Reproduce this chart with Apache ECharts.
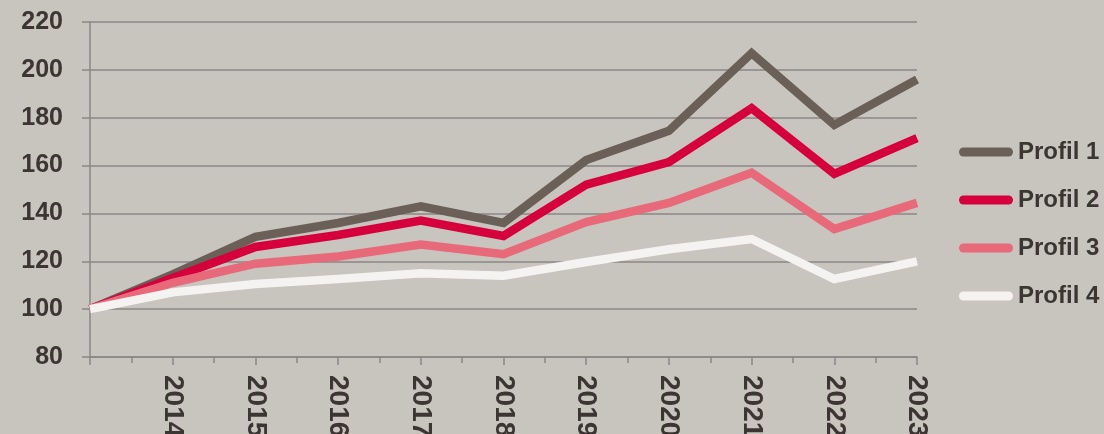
<!DOCTYPE html>
<html><head><meta charset="utf-8">
<script src="https://cdn.jsdelivr.net/npm/echarts@6/dist/echarts.min.js"></script>
<style>html,body{margin:0;padding:0;background:#c8c4be;}#c{width:1104px;height:434px;}</style>
</head><body><div id="c"></div>
<script>
const years = [2013, 2014, 2015, 2016, 2017, 2018, 2019, 2020, 2021, 2022, 2023];
const profil1 = [100, 114.5, 130.2, 136, 143, 136, 162.3, 174.5, 207, 177, 196];
const profil2 = [100, 113, 126, 131, 137, 130.6, 152, 161.5, 184, 156.5, 171.5];
const profil3 = [100, 111, 119, 122, 127, 123, 136.4, 144.4, 157, 133.5, 144.4];
const profil4 = [100, 107, 110.5, 112.6, 115, 114, 119.7, 125, 129.3, 112.6, 120];
const seriesNames = ['Profil 1', 'Profil 2', 'Profil 3', 'Profil 4'];
const seriesData = [profil1, profil2, profil3, profil4];
const colors = ['#6b6058', '#d5003c', '#e8697a', '#f5f3f1'];
const textColor = '#3b3632';
const font = '"Liberation Sans", Arial, sans-serif';

const chart = echarts.init(document.getElementById('c'));
chart.setOption({
  backgroundColor: '#c8c4be',
  animation: false,
  grid: { left: 90, right: 187, top: 22, bottom: 77, containLabel: false, outerBoundsMode: 'none' },
  legend: {
    orient: 'vertical', left: 954, top: 135,
    itemWidth: 60, itemHeight: 9, itemGap: 24,
    icon: 'path://M5,0 H55 A5,5 0 0 1 55,10 H5 A5,5 0 0 1 5,0 Z',
    textStyle: { color: textColor, fontFamily: font, fontWeight: 'bold', fontSize: 24, lineHeight: 24, padding: [0,0,0,-3] },
    data: seriesNames
  },
  xAxis: {
    type: 'value', min: 2013, max: 2023, interval: 1,
    axisLine: { show: true, lineStyle: { color: '#8a8785', width: 1.5 } },
    axisTick: { show: true, length: 8, lineStyle: { color: '#8a8785', width: 1.5 } },
    minorTick: { show: true, splitNumber: 2, length: 6, lineStyle: { color: '#8a8785', width: 1.5 } },
    splitLine: { show: false },
    axisLabel: {
      rotate: -90, margin: 18, color: textColor, fontFamily: font, fontWeight: 'bold', fontSize: 28,
      formatter: v => (v === 2013 ? '' : String(v))
    }
  },
  yAxis: {
    type: 'value', min: 80, max: 220, interval: 20,
    axisLine: { show: true, lineStyle: { color: '#8a8785', width: 1.5 } },
    axisTick: { show: true, length: 8, lineStyle: { color: '#8a8785', width: 1.5 } },
    splitLine: { show: true, lineStyle: { color: '#8a8785', width: 1.5 } },
    axisLabel: { margin: 27, color: textColor, fontFamily: font, fontWeight: 'bold', fontSize: 25 }
  },
  series: seriesNames.map((n, i) => ({
    name: n, type: 'line', symbol: 'none',
    data: years.map((y, j) => [y, seriesData[i][j]]),
    lineStyle: { color: colors[i], width: 8.5, join: 'miter' },
    itemStyle: { color: colors[i] }
  }))
});
</script></body></html>
